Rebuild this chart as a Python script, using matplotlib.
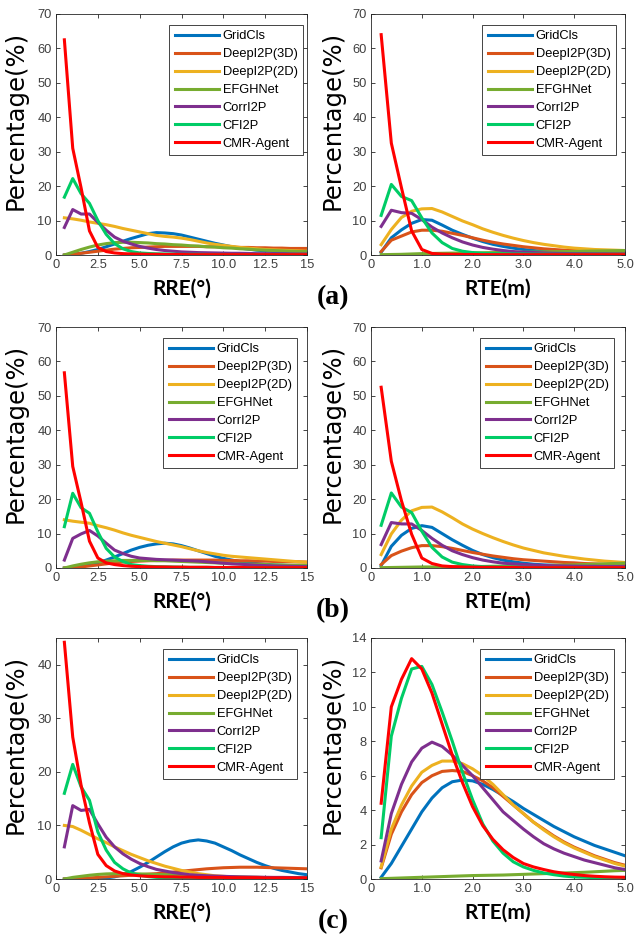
import numpy as np
import matplotlib
matplotlib.use('Agg')
import matplotlib.pyplot as plt

# x grids (bin centres)
rre_x = np.arange(1, 31) * 0.5      # 0.5 .. 15
rte_x = np.arange(1, 26) * 0.2      # 0.2 .. 5.0

methods = ['GridCls', 'DeepI2P(3D)', 'DeepI2P(2D)', 'EFGHNet', 'CorrI2P', 'CFI2P', 'CMR-Agent']
colors = ['#0072BD', '#D95319', '#EDB120', '#77AC30', '#7E2F8E', '#00CC66', '#FF0000']

# ---- row (a) ----
rre_a_gridcls = [0.0, 0.2, 0.5, 1.0, 1.6, 2.4, 3.2, 4.0, 4.8, 5.5, 6.2, 6.5, 6.4, 6.2, 5.8, 5.2, 4.6, 4.0, 3.4, 2.9, 2.4, 2.0, 1.7, 1.4, 1.2, 1.0, 0.9, 0.8, 0.7, 0.6]
rre_a_deep3d = [0.0, 0.2, 0.5, 0.8, 1.1, 1.4, 1.7, 1.9, 2.1, 2.2, 2.3, 2.4, 2.5, 2.5, 2.5, 2.5, 2.5, 2.4, 2.4, 2.3, 2.3, 2.2, 2.2, 2.1, 2.1, 2.0, 2.0, 1.9, 1.9, 1.9]
rre_a_deep2d = [10.8, 10.5, 10.1, 9.6, 9.2, 8.8, 8.3, 7.7, 7.2, 6.7, 6.2, 5.7, 5.4, 5.2, 4.9, 4.5, 4.0, 3.5, 3.1, 2.8, 2.5, 2.2, 2.0, 1.8, 1.6, 1.5, 1.4, 1.3, 1.2, 1.1]
rre_a_efgh = [0.0, 0.8, 1.6, 2.3, 2.9, 3.3, 3.6, 3.7, 3.7, 3.6, 3.5, 3.3, 3.2, 3.0, 2.9, 2.7, 2.6, 2.4, 2.3, 2.1, 2.0, 1.8, 1.7, 1.5, 1.4, 1.3, 1.2, 1.1, 1.0, 1.0]
rre_a_corr = [8.0, 13.2, 11.9, 11.9, 9.5, 7.2, 5.2, 4.0, 3.2, 2.5, 2.0, 1.6, 1.3, 1.1, 0.9, 0.8, 0.7, 0.65, 0.6, 0.55, 0.5, 0.5, 0.45, 0.4, 0.4, 0.35, 0.35, 0.3, 0.3, 0.3]
rre_a_cfi = [16.8, 22.2, 17.8, 15.0, 10.0, 6.0, 3.3, 1.8, 1.0, 0.6, 0.45, 0.35, 0.3, 0.25, 0.2, 0.2, 0.2, 0.15, 0.15, 0.15, 0.1, 0.1, 0.1, 0.1, 0.1, 0.1, 0.1, 0.1, 0.1, 0.1]
rre_a_cmr = [62.5, 31.0, 19.5, 7.0, 2.2, 1.0, 0.6, 0.4, 0.3, 0.25, 0.2, 0.2, 0.15, 0.15, 0.15, 0.1, 0.1, 0.1, 0.1, 0.1, 0.1, 0.1, 0.1, 0.1, 0.1, 0.1, 0.1, 0.1, 0.1, 0.1]

rte_a_gridcls = [0.8, 5.0, 7.3, 9.2, 10.3, 10.1, 8.7, 7.2, 6.0, 4.9, 3.9, 3.1, 2.5, 2.0, 1.6, 1.3, 1.1, 0.9, 0.8, 0.7, 0.6, 0.55, 0.5, 0.45, 0.4]
rte_a_deep3d = [1.0, 4.3, 5.5, 6.7, 7.2, 7.2, 6.9, 6.3, 5.7, 5.0, 4.3, 3.7, 3.2, 2.8, 2.4, 2.1, 1.8, 1.6, 1.4, 1.3, 1.2, 1.1, 1.0, 1.0, 1.0]
rte_a_deep2d = [3.0, 7.4, 10.9, 12.7, 13.4, 13.5, 12.5, 11.2, 9.9, 8.8, 7.6, 6.6, 5.7, 4.9, 4.2, 3.6, 3.1, 2.7, 2.3, 2.0, 1.8, 1.6, 1.5, 1.4, 1.3]
rte_a_efgh = [0.1, 0.15, 0.2, 0.3, 0.4, 0.45, 0.5, 0.55, 0.6, 0.6, 0.65, 0.7, 0.75, 0.8, 0.8, 0.85, 0.9, 0.95, 1.0, 1.0, 1.1, 1.15, 1.2, 1.25, 1.3]
rte_a_corr = [8.3, 13.0, 12.3, 12.1, 10.3, 8.1, 6.4, 5.0, 3.8, 2.9, 2.2, 1.7, 1.3, 1.0, 0.8, 0.7, 0.6, 0.5, 0.45, 0.4, 0.4, 0.35, 0.35, 0.3, 0.3]
rte_a_cfi = [11.5, 20.5, 17.0, 15.8, 10.8, 6.4, 3.6, 1.9, 1.1, 0.7, 0.5, 0.4, 0.35, 0.3, 0.3, 0.25, 0.25, 0.2, 0.2, 0.2, 0.2, 0.2, 0.2, 0.2, 0.2]
rte_a_cmr = [64.0, 32.5, 19.5, 7.0, 1.6, 0.45, 0.25, 0.2, 0.15, 0.15, 0.1, 0.1, 0.1, 0.1, 0.1, 0.1, 0.1, 0.1, 0.1, 0.1, 0.1, 0.1, 0.1, 0.1, 0.1]

# ---- row (b) ----
rre_b_gridcls = [0.0, 0.2, 0.5, 0.9, 1.5, 2.3, 3.2, 4.2, 5.2, 6.0, 6.6, 7.0, 7.2, 7.0, 6.5, 5.8, 5.0, 4.2, 3.4, 2.8, 2.3, 1.9, 1.6, 1.3, 1.1, 0.9, 0.8, 0.7, 0.6, 0.5]
rre_b_deep3d = [0.0, 0.1, 0.3, 0.6, 0.9, 1.2, 1.5, 1.7, 1.9, 2.0, 2.1, 2.2, 2.2, 2.3, 2.3, 2.3, 2.3, 2.3, 2.3, 2.2, 2.2, 2.1, 2.1, 2.0, 2.0, 1.9, 1.9, 1.8, 1.8, 1.7]
rre_b_deep2d = [14.0, 13.6, 13.3, 13.0, 12.3, 11.7, 11.0, 10.2, 9.5, 8.9, 8.3, 7.7, 7.2, 6.7, 6.2, 5.6, 5.0, 4.5, 4.1, 3.7, 3.4, 3.2, 3.0, 2.8, 2.6, 2.4, 2.2, 2.0, 1.8, 1.7]
rre_b_efgh = [0.0, 0.6, 1.1, 1.5, 1.8, 2.0, 2.1, 2.2, 2.2, 2.2, 2.2, 2.1, 2.1, 2.0, 1.9, 1.8, 1.7, 1.6, 1.5, 1.4, 1.3, 1.2, 1.1, 1.0, 1.0, 0.9, 0.9, 0.8, 0.8, 0.7]
rre_b_corr = [2.3, 8.6, 9.9, 10.9, 9.3, 7.2, 5.2, 4.2, 3.4, 2.9, 2.7, 2.5, 2.4, 2.3, 2.2, 2.1, 2.0, 1.8, 1.6, 1.4, 1.2, 1.1, 0.95, 0.8, 0.7, 0.6, 0.55, 0.5, 0.45, 0.4]
rre_b_cfi = [12.0, 21.7, 17.5, 15.9, 10.5, 5.7, 3.2, 1.9, 1.0, 0.7, 0.5, 0.4, 0.35, 0.3, 0.25, 0.2, 0.2, 0.2, 0.15, 0.15, 0.15, 0.1, 0.1, 0.1, 0.1, 0.1, 0.1, 0.1, 0.1, 0.1]
rre_b_cmr = [56.7, 29.5, 19.0, 7.8, 2.9, 1.5, 1.0, 0.7, 0.5, 0.4, 0.35, 0.3, 0.3, 0.25, 0.25, 0.2, 0.2, 0.2, 0.15, 0.15, 0.15, 0.15, 0.1, 0.1, 0.1, 0.1, 0.1, 0.1, 0.1, 0.1]

rte_b_gridcls = [0.7, 6.3, 9.5, 11.5, 12.3, 11.8, 10.0, 8.2, 6.6, 5.1, 3.9, 3.0, 2.3, 1.8, 1.4, 1.1, 0.9, 0.8, 0.7, 0.6, 0.55, 0.5, 0.45, 0.4, 0.4]
rte_b_deep3d = [1.0, 3.6, 4.9, 5.9, 6.5, 6.5, 6.2, 5.7, 5.1, 4.5, 4.0, 3.5, 3.1, 2.7, 2.4, 2.2, 2.0, 1.8, 1.6, 1.5, 1.3, 1.2, 1.1, 1.0, 0.9]
rte_b_deep2d = [3.9, 9.9, 13.9, 16.6, 17.6, 17.7, 16.3, 14.6, 12.8, 11.3, 10.0, 8.8, 7.7, 6.7, 5.8, 5.1, 4.4, 3.9, 3.4, 3.0, 2.6, 2.3, 2.0, 1.8, 1.6]
rte_b_efgh = [0.1, 0.15, 0.2, 0.25, 0.3, 0.3, 0.35, 0.35, 0.4, 0.4, 0.45, 0.5, 0.55, 0.6, 0.6, 0.65, 0.7, 0.8, 0.85, 0.9, 1.0, 1.1, 1.2, 1.3, 1.4]
rte_b_corr = [6.8, 13.2, 12.8, 12.8, 10.9, 8.6, 6.6, 5.0, 3.9, 3.0, 2.3, 1.8, 1.4, 1.2, 1.0, 0.85, 0.75, 0.65, 0.6, 0.55, 0.5, 0.5, 0.45, 0.45, 0.4]
rte_b_cfi = [12.4, 21.8, 17.7, 16.1, 10.7, 6.0, 3.2, 1.7, 1.0, 0.6, 0.4, 0.3, 0.25, 0.2, 0.2, 0.15, 0.15, 0.15, 0.1, 0.1, 0.1, 0.1, 0.1, 0.1, 0.1]
rte_b_cmr = [52.5, 31.0, 19.5, 9.8, 2.9, 1.3, 0.6, 0.4, 0.3, 0.25, 0.2, 0.2, 0.15, 0.15, 0.1, 0.1, 0.1, 0.1, 0.1, 0.1, 0.1, 0.1, 0.1, 0.1, 0.1]

# ---- row (c) ----
rre_c_gridcls = [0.0, 0.0, 0.0, 0.05, 0.1, 0.2, 0.4, 0.8, 1.4, 2.2, 3.1, 4.1, 5.1, 6.0, 6.7, 7.1, 7.3, 7.1, 6.7, 6.0, 5.3, 4.5, 3.8, 3.1, 2.5, 2.0, 1.6, 1.3, 1.0, 0.8]
rre_c_deep3d = [0.0, 0.05, 0.1, 0.2, 0.3, 0.4, 0.5, 0.6, 0.7, 0.8, 0.9, 1.0, 1.15, 1.3, 1.45, 1.6, 1.75, 1.9, 2.0, 2.1, 2.15, 2.2, 2.2, 2.2, 2.15, 2.1, 2.05, 2.0, 1.95, 1.9]
rre_c_deep2d = [10.0, 9.8, 9.1, 8.3, 7.5, 6.8, 6.0, 5.3, 4.6, 4.0, 3.4, 2.9, 2.4, 2.0, 1.6, 1.3, 1.0, 0.8, 0.6, 0.5, 0.4, 0.35, 0.3, 0.3, 0.25, 0.25, 0.2, 0.2, 0.2, 0.2]
rre_c_efgh = [0.0, 0.3, 0.5, 0.7, 0.85, 0.95, 1.0, 1.0, 1.0, 0.95, 0.9, 0.85, 0.8, 0.75, 0.7, 0.6, 0.55, 0.5, 0.45, 0.4, 0.38, 0.35, 0.32, 0.3, 0.28, 0.25, 0.22, 0.2, 0.2, 0.2]
rre_c_corr = [6.0, 13.7, 12.8, 13.0, 10.3, 7.8, 6.0, 4.7, 3.7, 2.9, 2.3, 1.8, 1.5, 1.2, 1.0, 0.8, 0.7, 0.6, 0.55, 0.5, 0.45, 0.4, 0.38, 0.35, 0.32, 0.3, 0.3, 0.28, 0.25, 0.25]
rre_c_cfi = [16.0, 21.4, 17.2, 14.7, 8.8, 5.4, 3.1, 1.9, 1.1, 0.7, 0.45, 0.3, 0.25, 0.2, 0.2, 0.15, 0.15, 0.15, 0.1, 0.1, 0.1, 0.1, 0.1, 0.1, 0.1, 0.1, 0.1, 0.1, 0.1, 0.1]
rre_c_cmr = [44.2, 26.5, 17.5, 10.5, 4.6, 2.5, 1.5, 1.0, 0.75, 0.6, 0.5, 0.45, 0.4, 0.4, 0.35, 0.35, 0.3, 0.3, 0.3, 0.3, 0.25, 0.25, 0.25, 0.25, 0.2, 0.2, 0.2, 0.2, 0.2, 0.2]

rte_c_gridcls = [0.1, 0.9, 1.9, 2.9, 3.9, 4.7, 5.3, 5.65, 5.75, 5.7, 5.5, 5.2, 4.85, 4.5, 4.1, 3.75, 3.4, 3.05, 2.75, 2.45, 2.2, 1.95, 1.75, 1.55, 1.35]
rte_c_deep3d = [0.65, 2.6, 3.9, 4.9, 5.6, 6.0, 6.25, 6.3, 6.25, 6.0, 5.7, 5.3, 4.8, 4.3, 3.8, 3.3, 2.9, 2.5, 2.15, 1.85, 1.6, 1.35, 1.15, 0.95, 0.8]
rte_c_deep2d = [0.7, 2.9, 4.3, 5.4, 6.2, 6.6, 6.85, 6.85, 6.7, 6.4, 6.0, 5.5, 4.9, 4.3, 3.8, 3.3, 2.85, 2.45, 2.1, 1.8, 1.55, 1.3, 1.1, 0.9, 0.75]
rte_c_efgh = [0.02, 0.04, 0.06, 0.08, 0.1, 0.12, 0.14, 0.16, 0.18, 0.2, 0.21, 0.22, 0.23, 0.25, 0.27, 0.29, 0.31, 0.33, 0.35, 0.37, 0.39, 0.42, 0.45, 0.48, 0.5]
rte_c_corr = [1.05, 3.8, 5.5, 6.8, 7.6, 7.95, 7.7, 7.2, 6.6, 6.0, 5.3, 4.6, 3.9, 3.4, 2.9, 2.45, 2.05, 1.75, 1.5, 1.3, 1.1, 0.95, 0.8, 0.65, 0.55]
rte_c_cfi = [2.4, 8.3, 10.5, 12.2, 12.35, 11.3, 9.7, 8.0, 6.2, 4.6, 3.2, 2.2, 1.5, 1.0, 0.7, 0.5, 0.35, 0.25, 0.17, 0.12, 0.1, 0.08, 0.06, 0.05, 0.05]
rte_c_cmr = [4.4, 10.0, 11.6, 12.8, 12.2, 10.8, 9.0, 7.2, 5.6, 4.2, 3.1, 2.3, 1.7, 1.25, 0.9, 0.7, 0.55, 0.42, 0.33, 0.26, 0.2, 0.16, 0.13, 0.11, 0.1]


# left px, top px, x grid, series, kind, ymax, legend right edge (px)
panels = [
    (56, 14, rre_x, [rre_a_gridcls, rre_a_deep3d, rre_a_deep2d, rre_a_efgh, rre_a_corr, rre_a_cfi, rre_a_cmr], 'rre', 70, 303),
    (371, 14, rte_x, [rte_a_gridcls, rte_a_deep3d, rte_a_deep2d, rte_a_efgh, rte_a_corr, rte_a_cfi, rte_a_cmr], 'rte', 70, 616),
    (56, 327, rre_x, [rre_b_gridcls, rre_b_deep3d, rre_b_deep2d, rre_b_efgh, rre_b_corr, rre_b_cfi, rre_b_cmr], 'rre', 70, 297),
    (371, 327, rte_x, [rte_b_gridcls, rte_b_deep3d, rte_b_deep2d, rte_b_efgh, rte_b_corr, rte_b_cfi, rte_b_cmr], 'rte', 70, 614),
    (56, 638, rre_x, [rre_c_gridcls, rre_c_deep3d, rre_c_deep2d, rre_c_efgh, rre_c_corr, rre_c_cfi, rre_c_cmr], 'rre', 45, 297),
    (371, 638, rte_x, [rte_c_gridcls, rte_c_deep3d, rte_c_deep2d, rte_c_efgh, rte_c_corr, rte_c_cfi, rte_c_cmr], 'rte', 14, 614),
]

W, H = 637, 942
fig = plt.figure(figsize=(W / 100, H / 100), dpi=100)

gray = '#262626'
tick_font = 'Liberation Sans'

for left, top, xs, series, kind, ymax, leg_right in panels:
    aw = 251 if kind == 'rre' else 254
    ah = 241
    ax = fig.add_axes([left / W, 1 - (top + ah) / H, aw / W, ah / H])
    for ys, name, c in zip(series, methods, colors):
        ax.plot(xs, ys, color=c, lw=2.2, label=name)

    if kind == 'rre':
        ax.set_xlim(0, 15)
        ax.set_xticks([0, 2.5, 5, 7.5, 10, 12.5, 15])
        ax.set_xticklabels(['0', '2.5', '5.0', '7.5', '10.0', '12.5', '15'])
        ax.set_xlabel('RRE(°)')
    else:
        ax.set_xlim(0, 5)
        ax.set_xticks([0, 1, 2, 3, 4, 5])
        ax.set_xticklabels(['0', '1.0', '2.0', '3.0', '4.0', '5.0'])
        ax.set_xlabel('RTE(m)')

    ax.set_ylim(0, ymax)
    if ymax == 70:
        ax.set_yticks(np.arange(0, 71, 10))
    elif ymax == 45:
        ax.set_yticks([0, 10, 20, 30, 40])
    else:
        ax.set_yticks(np.arange(0, 15, 2))
    ax.set_ylabel('Percentage(%)')

    ax.xaxis.label.set_fontfamily('Lato')
    ax.xaxis.label.set_fontweight('bold')
    ax.xaxis.label.set_fontsize(15)
    ax.yaxis.label.set_fontfamily('DejaVu Sans')
    ax.yaxis.label.set_fontsize(17.5)
    ax.xaxis.set_label_coords(0.5, -0.1)
    ylab_x = -(28 / aw) if kind == 'rre' else -(26 / aw)
    ax.yaxis.set_label_coords(ylab_x, 0.56)

    ax.tick_params(direction='in', top=True, right=True, length=3, width=0.6,
                   colors=gray, labelsize=9.3, pad=3)
    for lab in ax.get_xticklabels() + ax.get_yticklabels():
        lab.set_fontfamily(tick_font)
        lab.set_color('#404040')
    for sp in ax.spines.values():
        sp.set_color(gray)
        sp.set_linewidth(0.6)

    anchor = ((leg_right - left) / aw, 1 - 11 / ah)
    leg = ax.legend(loc='upper right', bbox_to_anchor=anchor, frameon=True, fancybox=False,
                    prop={'family': tick_font, 'size': 9.3}, handlelength=3.4,
                    handletextpad=0.3, labelspacing=0.45, borderpad=0.42,
                    borderaxespad=0.0)
    leg.get_frame().set_edgecolor(gray)
    leg.get_frame().set_linewidth(0.6)
    leg.get_frame().set_alpha(1.0)

for lbl, yc in zip(['(a)', '(b)', '(c)'], [298, 611, 922]):
    fig.text(333 / W, 1 - yc / H, lbl, ha='center', va='center',
             fontfamily='Liberation Serif', fontweight='bold', fontsize=20)

fig.savefig('out.png', dpi=100)
